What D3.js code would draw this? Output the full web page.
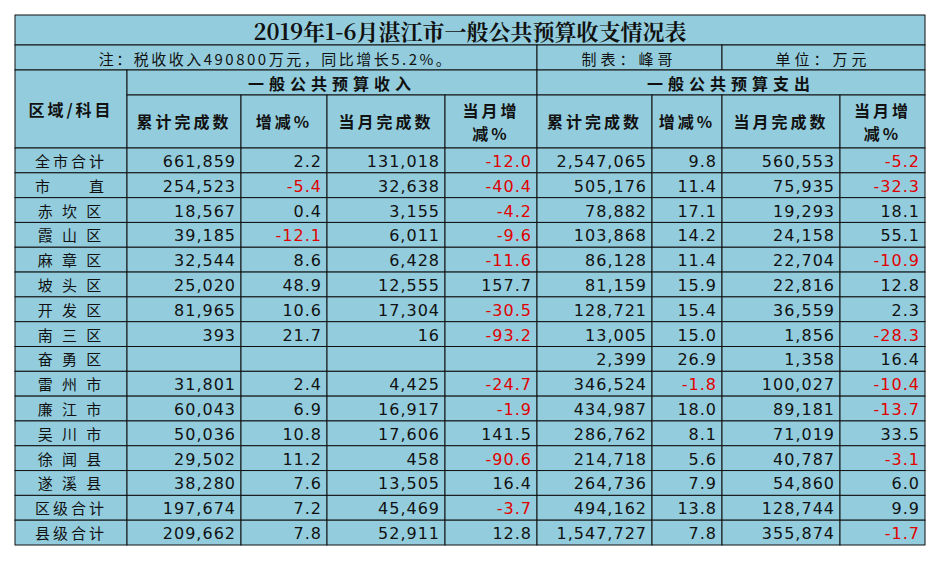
<!DOCTYPE html>
<html><head><meta charset="utf-8">
<script src="https://cdn.jsdelivr.net/npm/d3@7"></script>
<style>body{margin:0;background:#fff}</style></head>
<body><div id="chart"></div>
<script>
// Table data
const regions = ["全市合计","市　　直","赤 坎 区","霞 山 区","麻 章 区","坡 头 区","开 发 区","南 三 区","奋 勇 区","雷 州 市","廉 江 市","吴 川 市","徐 闻 县","遂 溪 县","区级合计","县级合计"];
const incCum = [661859,254523,18567,39185,32544,25020,81965,393,null,31801,60043,50036,29502,38280,197674,209662];
const incCumPct = [2.2,-5.4,0.4,-12.1,8.6,48.9,10.6,21.7,null,2.4,6.9,10.8,11.2,7.6,7.2,7.8];
const incMon = [131018,32638,3155,6011,6428,12555,17304,16,null,4425,16917,17606,458,13505,45469,52911];
const incMonPct = [-12.0,-40.4,-4.2,-9.6,-11.6,157.7,-30.5,-93.2,null,-24.7,-1.9,141.5,-90.6,16.4,-3.7,12.8];
const expCum = [2547065,505176,78882,103868,86128,81159,128721,13005,2399,346524,434987,286762,214718,264736,494162,1547727];
const expCumPct = [9.8,11.4,17.1,14.2,11.4,15.9,15.4,15.0,26.9,-1.8,18.0,8.1,5.6,7.9,13.8,7.8];
const expMon = [560553,75935,19293,24158,22704,22816,36559,1856,1358,100027,89181,71019,40787,54860,128744,355874];
const expMonPct = [-5.2,-32.3,18.1,55.1,-10.9,12.8,2.3,-28.3,16.4,-10.4,-13.7,33.5,-3.1,6.0,9.9,-1.7];

const cols = [regions, incCum, incCumPct, incMon, incMonPct, expCum, expCumPct, expMon, expMonPct];
const edges = [15,127,241,327,445,537,652,722,840,925];
const bg = "#93CDDD", cjk = "'Noto Sans CJK SC', sans-serif";

const svg = d3.select("#chart").append("svg").attr("width",939).attr("height",561);
const y = d3.scaleBand().domain(d3.range(regions.length)).range([148,545]);
const fmtInt = d3.format(",");

function cell(x0,x1,y0,y1){
  svg.append("rect").attr("x",x0).attr("y",y0).attr("width",x1-x0).attr("height",y1-y0)
    .attr("fill",bg).attr("stroke","#111").attr("stroke-width",1);
}
function txt(x,yy,s,o={}){
  svg.append("text").attr("x",x).attr("y",yy).attr("text-anchor",o.anchor||"middle")
    .attr("dominant-baseline","central").attr("font-family",o.font||cjk)
    .attr("font-size",o.size||16).attr("font-weight",o.weight||"normal")
    .attr("letter-spacing",o.ls||0).attr("fill",o.fill||"#111").text(s);
}

// Title + note rows
cell(15,925,15,45); txt(470,30,"2019年1-6月湛江市一般公共预算收支情况表",{size:22,weight:"bold",font:"'Noto Serif CJK SC','DejaVu Serif',"+cjk});
cell(15,537,45,70); cell(537,722,45,70); cell(722,925,45,70);
txt(276,58,"注：税收收入490800万元，同比增长5.2%。",{size:15,ls:2.5});
txt(629,58,"制表：峰哥",{size:15,ls:4});
txt(823,58,"单位：万元",{size:15,ls:4});
// Headers
cell(15,127,70,148); txt(71,109,"区域/科目",{size:16,weight:"bold",ls:3});
cell(127,537,70,95); txt(332,83,"一般公共预算收入",{size:16,weight:"bold",ls:5});
cell(537,925,70,95); txt(731,83,"一般公共预算支出",{size:16,weight:"bold",ls:5});
const sub = ["累计完成数","增减%","当月完成数","当月增\n减%"];
for(let c=1;c<9;c++){
  cell(edges[c],edges[c+1],95,148);
  const s = sub[(c-1)%4], cx=(edges[c]+edges[c+1])/2;
  if(s.includes("\n")){ const p=s.split("\n"); txt(cx,110,p[0],{size:16,weight:"bold",ls:3}); txt(cx,133,p[1],{size:16,weight:"bold",ls:3}); }
  else txt(cx,121,s,{size:16,weight:"bold",ls:3});
}
// Data rows
regions.forEach((r,i)=>{
  const y0=y(i), y1=y0+y.bandwidth(), cy=(y0+y1)/2;
  for(let c=0;c<9;c++){
    cell(edges[c],edges[c+1],y0,y1);
    const v = cols[c][i];
    if(c===0){ txt((edges[0]+edges[1])/2,cy,v,{size:15,ls:3}); continue; }
    if(v==null) continue;
    const isPct = c%2===0;
    const s = isPct ? v.toFixed(1) : fmtInt(v);
    txt(edges[c+1]-5,cy+1,s,{anchor:"end",size:16,font:"'DejaVu Sans',sans-serif",ls:1,fill:v<0?"#e00000":"#111"});
  }
});
</script></body></html>
